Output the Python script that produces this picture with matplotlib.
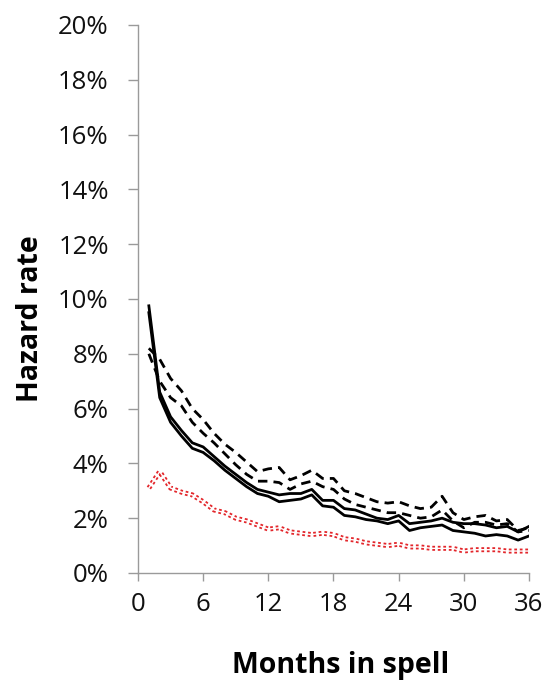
import matplotlib
matplotlib.use("Agg")
import matplotlib.pyplot as plt
from matplotlib.ticker import FuncFormatter

months = list(range(1, 37))

solid_upper = [9.75, 6.6, 5.7, 5.2, 4.75, 4.6, 4.25, 3.9, 3.6, 3.3, 3.05, 2.95,
               2.85, 2.9, 2.9, 3.05, 2.65, 2.65, 2.35, 2.3, 2.15, 2.0, 1.95, 2.1,
               1.8, 1.85, 1.9, 2.0, 1.85, 1.8, 1.8, 1.75, 1.65, 1.7, 1.5, 1.7]
solid_lower = [9.5, 6.4, 5.5, 5.0, 4.55, 4.4, 4.1, 3.75, 3.45, 3.15, 2.9, 2.8,
               2.6, 2.65, 2.7, 2.85, 2.45, 2.4, 2.1, 2.05, 1.95, 1.9, 1.8, 1.9,
               1.55, 1.65, 1.7, 1.75, 1.55, 1.5, 1.45, 1.35, 1.4, 1.35, 1.2, 1.35]
dashed_upper = [8.2, 7.8, 7.1, 6.65, 6.0, 5.6, 5.1, 4.7, 4.4, 4.05, 3.7, 3.8,
                3.85, 3.4, 3.55, 3.75, 3.45, 3.45, 3.0, 2.9, 2.75, 2.6, 2.55, 2.6,
                2.45, 2.35, 2.4, 2.8, 2.2, 1.95, 2.05, 2.1, 1.9, 1.95, 1.55, 1.65]
dashed_lower = [8.0, 7.0, 6.4, 6.1, 5.5, 5.1, 4.75, 4.35, 3.95, 3.6, 3.35, 3.35,
                3.3, 3.05, 3.25, 3.35, 3.15, 3.05, 2.7, 2.5, 2.4, 2.3, 2.2, 2.2,
                2.1, 2.0, 2.05, 2.3, 1.9, 1.65, 1.85, 1.85, 1.75, 1.8, 1.5, 1.55]
dotted_red = [3.1, 3.7, 3.1, 2.95, 2.85, 2.6, 2.3, 2.2, 2.0, 1.9, 1.75, 1.6,
              1.65, 1.5, 1.45, 1.4, 1.45, 1.4, 1.25, 1.2, 1.1, 1.05, 1.0, 1.05,
              0.95, 0.95, 0.9, 0.9, 0.9, 0.8, 0.85, 0.85, 0.85, 0.8, 0.8, 0.8]

x_ticks = [0, 6, 12, 18, 24, 30, 36]
y_ticks = [0, 2, 4, 6, 8, 10, 12, 14, 16, 18, 20]

plt.rcParams['font.family'] = ['Open Sans', 'DejaVu Sans']

fig = plt.figure(figsize=(5.45, 6.9), dpi=100)
ax = fig.add_axes([0.2532, 0.1696, 0.7174, 0.7942])

# red series drawn as a doubled dotted stroke
ax.plot(months, dotted_red, color='#e3262b', lw=3.6, ls=(0, (0.55, 0.55)),
        solid_capstyle='butt', dash_capstyle='butt')
ax.plot(months, dotted_red, color='white', lw=1.0)

for series in (dashed_upper, dashed_lower):
    ax.plot(months, series, color='black', lw=2.0, ls=(0, (3.4, 2.2)))
for series in (solid_upper, solid_lower):
    ax.plot(months, series, color='black', lw=2.0)

ax.set_xlim(0, 36)
ax.set_ylim(0, 20)
ax.set_xticks(x_ticks)
ax.set_yticks(y_ticks)
ax.yaxis.set_major_formatter(FuncFormatter(lambda v, p: f"{v:.0f}%"))

for side in ('top', 'right'):
    ax.spines[side].set_visible(False)
for side in ('left', 'bottom'):
    ax.spines[side].set_color('#9a9a9a')
    ax.spines[side].set_linewidth(1.0)

ax.tick_params(axis='y', length=7, width=1, color='#9a9a9a', pad=14,
               labelsize=18.5, labelcolor='#111111')
ax.tick_params(axis='x', length=6, width=1, color='#9a9a9a', pad=8,
               labelsize=18.5, labelcolor='#111111')

ax.set_ylabel('Hazard rate', fontsize=20.5, fontweight='bold')
ax.set_xlabel('Months in spell', fontsize=20.5, fontweight='bold')
ax.yaxis.set_label_coords(-0.276, 0.465)
ax.xaxis.set_label_coords(0.517, -0.168)
ax.yaxis.label.set_verticalalignment('center')
ax.xaxis.label.set_verticalalignment('center')

fig.savefig('out.png', dpi=100)
